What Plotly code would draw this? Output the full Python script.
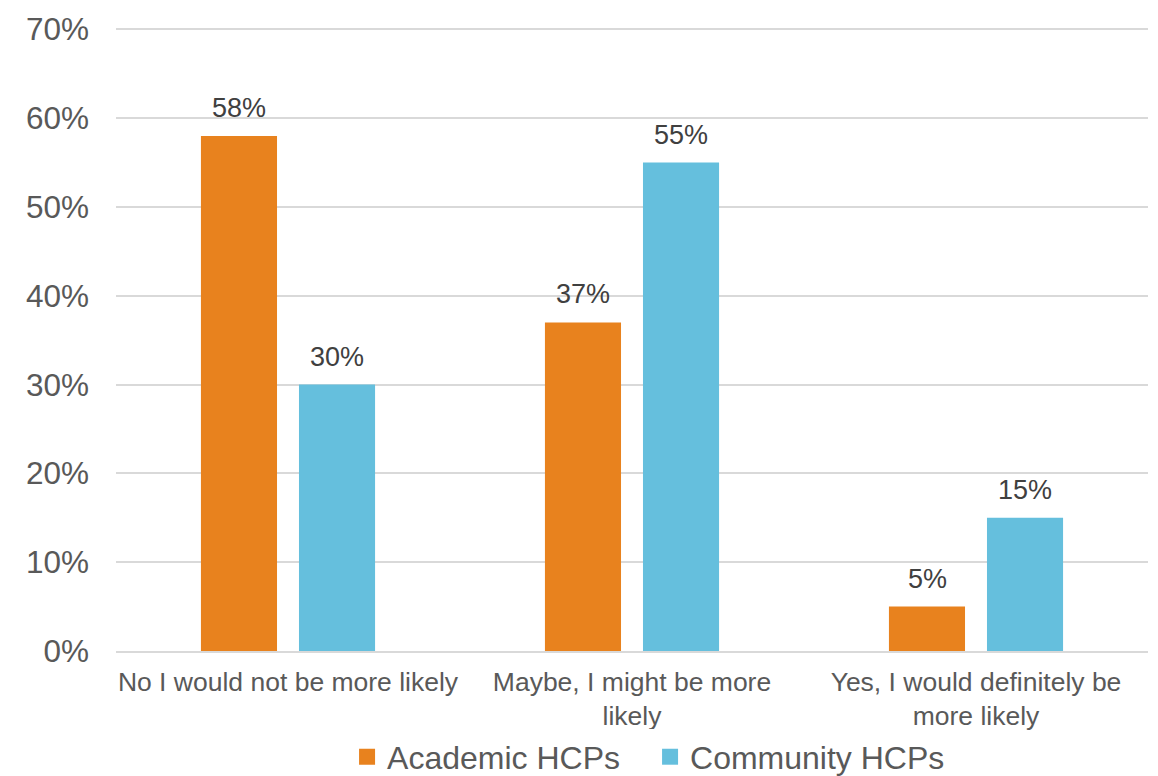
import plotly.graph_objects as go

categories = ["No I would not be more likely", "Maybe, I might be more<br>likely", "Yes, I would definitely be<br>more likely"]
academic = [0.58, 0.37, 0.05]
community = [0.30, 0.55, 0.15]
series_names = ["Academic HCPs", "Community HCPs"]
colors = ["#E8821E", "#65BFDD"]
y_ticks = [0, 0.1, 0.2, 0.3, 0.4, 0.5, 0.6, 0.7]

FONT = "Liberation Sans, Arial, sans-serif"
TXT = "#595959"

fig = go.Figure()
for name, vals, col in zip(series_names, [academic, community], colors):
    fig.add_trace(go.Bar(x=categories, y=vals, name=name, showlegend=False,
                         marker=dict(color=col, line=dict(width=0))))
for name, col in zip(series_names, colors):
    fig.add_trace(go.Scatter(x=[None], y=[None], mode="markers", name=name,
                             marker=dict(symbol="square", size=16, color=col)))

annotations = []
for vals, shift in [(academic, -49), (community, 49)]:
    for c, v in zip(categories, vals):
        annotations.append(dict(x=c, y=v, xref="x", yref="y", text=f"{round(v*100)}%", showarrow=False,
                                xshift=shift, yanchor="bottom", yshift=11,
                                font=dict(family=FONT, size=27, color="#404040")))

fig.update_layout(
    width=1150, height=768,
    margin=dict(l=108, r=10, t=20, b=125, autoexpand=False),
    paper_bgcolor="white", plot_bgcolor="white",
    barmode="group", bargap=0.43, bargroupgap=0.224,
    font=dict(family=FONT, color=TXT),
    annotations=annotations,
    legend=dict(orientation="h", x=0.5175, xanchor="center", y=-0.170, yanchor="middle",
                font=dict(family=FONT, size=32, color=TXT), itemwidth=30, traceorder="normal",
                entrywidth=258),
    xaxis=dict(showline=True, linecolor="#D9D9D9", linewidth=1.5, ticks="", showgrid=False,
               tickfont=dict(family=FONT, size=26.5, color=TXT), ticklabelstandoff=6, automargin=False),
    yaxis=dict(range=[0, 0.7015], tickvals=y_ticks, tickformat=".0%", showgrid=True, gridcolor="#D9D9D9",
               gridwidth=1.5, zeroline=False, showline=False, ticks="",
               tickfont=dict(family=FONT, size=31.5, color=TXT), ticklabelstandoff=26, automargin=False),
)

fig.write_html("out.html")
